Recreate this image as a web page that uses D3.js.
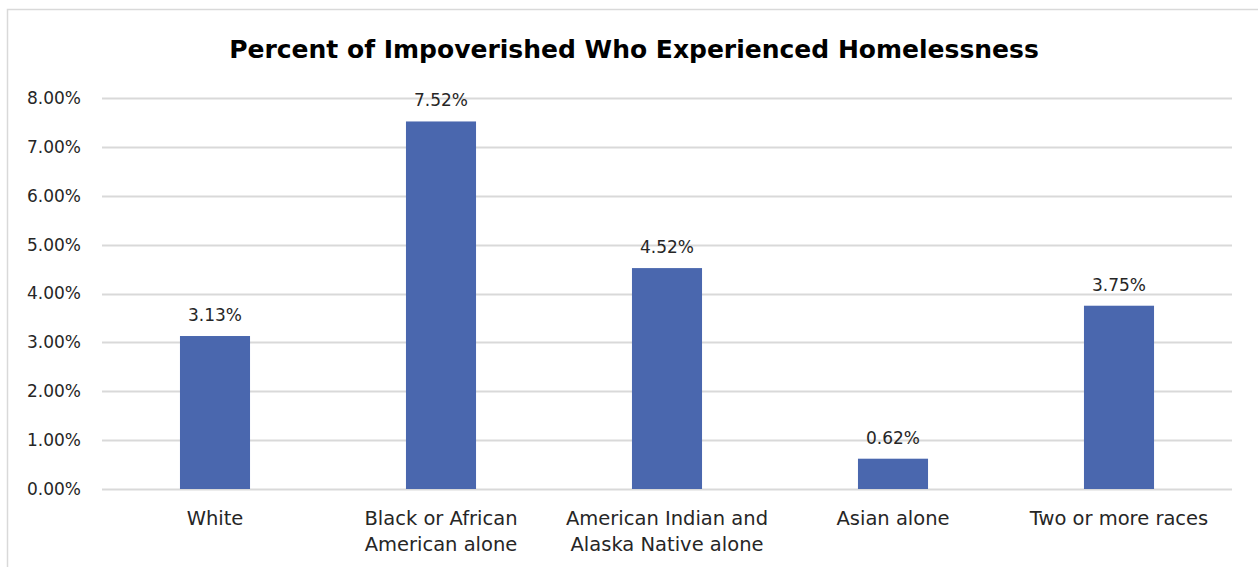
<!DOCTYPE html>
<html lang="en">
<head>
	<meta charset="UTF-8">
	<title>Homelessness</title>
	<script src="https://cdn.jsdelivr.net/npm/d3@7"></script>
	<style>
		body { margin: 0; background: #fff; }
		.tick text { font-family: 'DejaVu Sans', sans-serif; font-size: 17px; fill: #262626; }
		.label { font-family: 'DejaVu Sans', sans-serif; font-size: 17px; fill: #262626; }
		.cat { font-family: 'DejaVu Sans', sans-serif; font-size: 19.5px; fill: #262626; }
		.title { font-family: 'DejaVu Sans', sans-serif; font-size: 25px; font-weight: bold; fill: #000; }
	</style>
</head>
<body>
<script>
	var categories = [
		['White'],
		['Black or African', 'American alone'],
		['American Indian and', 'Alaska Native alone'],
		['Asian alone'],
		['Two or more races']
	];
	var values = [0.0313, 0.0752, 0.0452, 0.0062, 0.0375];
	var yTicks = [0, 0.01, 0.02, 0.03, 0.04, 0.05, 0.06, 0.07, 0.08];

	var W = 1258, H = 567;
	var margin = {top: 98, bottom: 78, left: 102, right: 26};
	var width = W - margin.left - margin.right,
		height = H - margin.top - margin.bottom;

	var svgRoot = d3.select('body').append('svg')
		.attr('width', W)
		.attr('height', H);

	svgRoot.append('rect')
		.attr('x', 7.5).attr('y', 9.5)
		.attr('width', 1270).attr('height', 580)
		.attr('fill', 'none')
		.attr('stroke', '#d9d9d9')
		.attr('stroke-width', 1.5);

	svgRoot.append('text')
		.attr('class', 'title')
		.attr('x', 634)
		.attr('y', 58)
		.attr('text-anchor', 'middle')
		.text('Percent of Impoverished Who Experienced Homelessness');

	var svg = svgRoot.append('g')
		.attr('transform', 'translate(' + margin.left + ',' + margin.top + ')');

	var x = d3.scaleBand()
		.domain(d3.range(values.length))
		.range([0, width])
		.paddingInner(0.69)
		.paddingOuter(0.345);

	var y = d3.scaleLinear()
		.domain([0, 0.08])
		.range([height, 0]);

	// gridlines
	svg.append('g')
		.selectAll('line')
		.data(yTicks)
		.enter()
		.append('line')
		.attr('x1', 0)
		.attr('x2', width)
		.attr('y1', function(d) { return Math.round(y(d)) + 0.5; })
		.attr('y2', function(d) { return Math.round(y(d)) + 0.5; })
		.attr('stroke', '#d9d9d9')
		.attr('stroke-width', 2);

	var yAxis = svg.append('g')
		.call(d3.axisLeft(y).tickValues(yTicks).tickFormat(d3.format('.2%')).tickSize(0).tickPadding(21));
	yAxis.select('.domain').remove();

	svg.selectAll('.bar')
		.data(values)
		.enter()
		.append('rect')
		.attr('class', 'bar')
		.attr('x', function(d, i) { return x(i); })
		.attr('width', x.bandwidth())
		.attr('y', function(d) { return y(d); })
		.attr('height', function(d) { return height - y(d); })
		.attr('fill', '#4a67ae');

	svg.selectAll('.val')
		.data(values)
		.enter()
		.append('text')
		.attr('class', 'label')
		.attr('text-anchor', 'middle')
		.attr('x', function(d, i) { return x(i) + x.bandwidth() / 2; })
		.attr('y', function(d) { return y(d) - 15; })
		.text(function(d) { return d3.format('.2%')(d); });

	var cat = svg.selectAll('.cat')
		.data(categories)
		.enter()
		.append('text')
		.attr('class', 'cat')
		.attr('text-anchor', 'middle')
		.attr('transform', function(d, i) {
			return 'translate(' + (x(i) + x.bandwidth() / 2) + ',' + (height + 36) + ')';
		});
	cat.selectAll('tspan')
		.data(function(d) { return d; })
		.enter()
		.append('tspan')
		.attr('x', 0)
		.attr('y', function(d, i) { return i * 26; })
		.text(function(d) { return d; });
</script>
</body>
</html>
